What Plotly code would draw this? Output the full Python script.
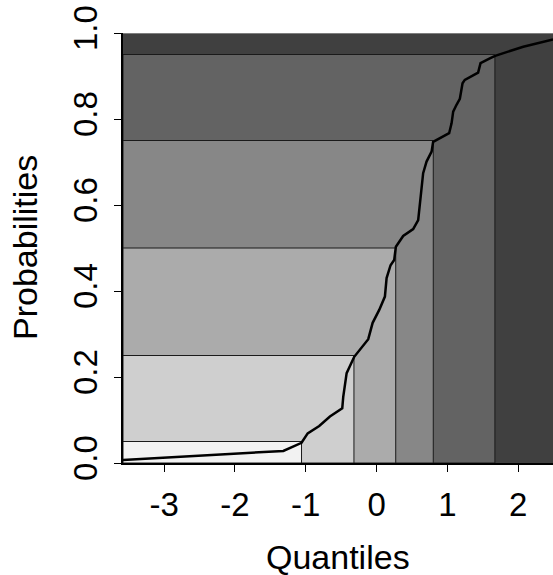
import plotly.graph_objects as go

# quantile levels and their values
probs = [0.05, 0.25, 0.50, 0.75, 0.95]
quant = [-1.06, -0.32, 0.27, 0.80, 1.67]
fills = ["#F2F2F2", "#CFCFCF", "#ABABAB", "#878787", "#636363"]
bg_fill = "#404040"

# empirical CDF curve
cdf_x = [-3.58, -1.317, -1.06, -0.973, -0.81, -0.659, -0.485, -0.471, -0.423, -0.377,
         -0.316, -0.118, -0.056, 0.037, 0.117, 0.141, 0.197, 0.248, 0.272, 0.375,
         0.516, 0.587, 0.634, 0.657, 0.705, 0.776, 0.798, 1.024, 1.058, 1.081,
         1.128, 1.175, 1.213, 1.245, 1.433, 1.467, 1.598, 1.673, 2.07, 2.49]
cdf_y = [0.007, 0.028, 0.047, 0.069, 0.086, 0.108, 0.127, 0.154, 0.209, 0.224,
         0.247, 0.288, 0.326, 0.356, 0.387, 0.43, 0.46, 0.472, 0.503, 0.528,
         0.544, 0.565, 0.635, 0.674, 0.701, 0.724, 0.747, 0.767, 0.790, 0.817,
         0.833, 0.847, 0.883, 0.891, 0.908, 0.93, 0.941, 0.947, 0.968, 0.985]

xticks = [-3, -2, -1, 0, 1, 2]
yticks = [0.0, 0.2, 0.4, 0.6, 0.8, 1.0]
ytick_text = ["0.0", "0.2", "0.4", "0.6", "0.8", "1.0"]
x_title = "Quantiles"
y_title = "Probabilities"

xmin, xmax = -3.58, 2.49
ymin, ymax = 0.0, 1.0

shapes = [dict(type="rect", xref="x", yref="y", x0=xmin, x1=xmax, y0=ymin, y1=ymax,
               fillcolor=bg_fill, line=dict(width=0), layer="below")]
for p, q, c in sorted(zip(probs, quant, fills), key=lambda t: -t[0]):
    shapes.append(dict(type="rect", xref="x", yref="y", x0=xmin, x1=q, y0=ymin, y1=p,
                       fillcolor=c, line=dict(color="#1a1a1a", width=1), layer="below"))
shapes.append(dict(type="line", xref="x", yref="y", x0=xmin, x1=xmax, y0=ymax, y1=ymax,
                   line=dict(color="#bbbbbb", width=1)))

fig = go.Figure()
fig.add_trace(go.Scatter(x=cdf_x, y=cdf_y, mode="lines",
                         line=dict(color="black", width=2.5), hoverinfo="skip"))

font = "Liberation Sans, Arial, sans-serif"
tickfont = dict(family=font, size=33, color="black")
fig.update_layout(
    width=553, height=575,
    margin=dict(l=123, r=0, t=33, b=112),
    paper_bgcolor="white", plot_bgcolor="white",
    showlegend=False, shapes=shapes,
    font=dict(family=font, color="black", size=33),
    xaxis=dict(range=[xmin, xmax], tickvals=xticks, ticktext=[str(t) for t in xticks],
               showgrid=False, zeroline=False, showline=True, linecolor="black", linewidth=2,
               ticks="outside", ticklen=7, tickwidth=1, tickcolor="black",
               tickfont=tickfont, ticklabelstandoff=4),
    yaxis=dict(range=[ymin, ymax], tickvals=yticks, ticktext=ytick_text, tickangle=-90,
               showgrid=False, zeroline=False, showline=True, linecolor="black", linewidth=2,
               ticks="outside", ticklen=7, tickwidth=1, tickcolor="black",
               tickfont=tickfont, ticklabelstandoff=4),
    annotations=[
        dict(text=x_title, xref="paper", yref="paper", x=0.5, y=(463 - 557) / 430,
             xanchor="center", yanchor="middle", showarrow=False,
             font=dict(family=font, size=34, color="black")),
        dict(text=y_title, xref="paper", yref="paper", x=(25 - 123) / 430, y=0.5,
             xanchor="center", yanchor="middle", textangle=-90, showarrow=False,
             font=dict(family=font, size=34, color="black")),
    ],
)
fig.write_html("out.html")
